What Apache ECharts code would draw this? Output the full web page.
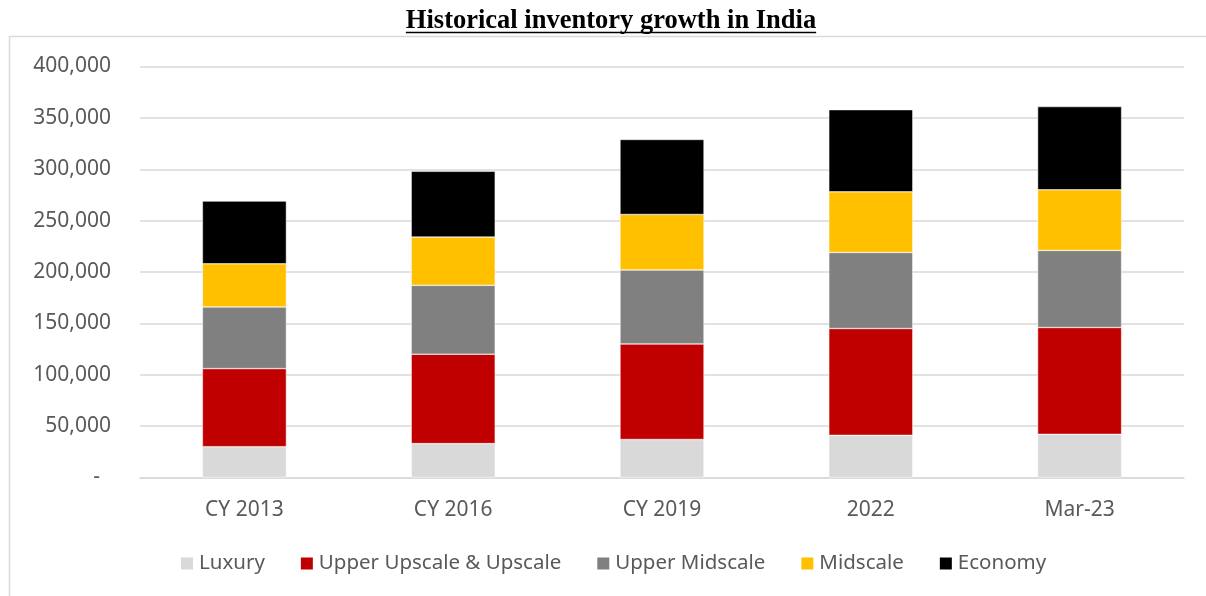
<!DOCTYPE html>
<html>
<head>
<meta charset="utf-8">
<script src="https://cdn.jsdelivr.net/npm/echarts@6/dist/echarts.min.js"></script>
<style>
html,body{margin:0;padding:0;background:#fff;}
#chart{width:1206px;height:596px;}
</style>
</head>
<body>
<div id="chart"></div>
<script>
const titleText = 'Historical inventory growth in India';
const categories = ['CY 2013', 'CY 2016', 'CY 2019', '2022', 'Mar-23'];
const seriesNames = ['Luxury', 'Upper Upscale & Upscale', 'Upper Midscale', 'Midscale', 'Economy'];
const luxury = [30000, 33000, 37000, 41000, 42000];
const upperUpscale = [76000, 87000, 93000, 104000, 104000];
const upperMidscale = [60000, 67000, 72000, 74000, 75000];
const midscale = [42000, 47000, 54000, 59000, 59000];
const economy = [61000, 64000, 73000, 80000, 81000];
const colors = ['#D9D9D9', '#C00000', '#808080', '#FFC000', '#000000'];
const seriesData = [luxury, upperUpscale, upperMidscale, midscale, economy];

const chart = echarts.init(document.getElementById('chart'), null, {renderer: 'canvas'});

const titleFont = 'bold 26.5px "Liberation Serif"';
const mctx = document.createElement('canvas').getContext('2d');
mctx.font = titleFont;
const titleW = mctx.measureText(titleText).width;
const titleCx = 611;

const txt = '#595959';
const font = 'Noto Sans';

chart.setOption({
  animation: false,
  backgroundColor: '#ffffff',
  graphic: [
    {type: 'rect', shape: {x: 9.5, y: 36.5, width: 1220, height: 620}, style: {fill: null, stroke: '#D9D9D9', lineWidth: 1.5}, silent: true, z: -10},
    {type: 'text', x: titleCx, y: 21, style: {text: titleText, font: titleFont, fill: '#000', align: 'center', verticalAlign: 'middle'}},
    {type: 'line', shape: {x1: titleCx - titleW / 2, y1: 32.5, x2: titleCx + titleW / 2, y2: 32.5}, style: {stroke: '#000', lineWidth: 1.5}}
  ],
  legend: {
    left: 174,
    top: 548,
    itemWidth: 14,
    itemHeight: 14,
    itemGap: 34,
    icon: 'rect',
    textStyle: {color: txt, fontFamily: font, fontSize: 20.5, padding: [0, 0, 0, 0]},
    data: seriesNames
  },
  grid: {left: 140, right: 22, top: 66.5, bottom: 118.5, containLabel: false},
  xAxis: {
    type: 'category',
    data: categories,
    axisLine: {lineStyle: {color: '#D9D9D9', width: 1.5}},
    axisTick: {show: false},
    axisLabel: {color: txt, fontFamily: font, fontSize: 21, margin: 22}
  },
  yAxis: {
    type: 'value',
    min: 0, max: 400000, interval: 50000,
    axisLine: {show: false},
    axisTick: {show: false},
    splitLine: {lineStyle: {color: '#D9D9D9', width: 1.5}},
    axisLabel: {
      color: txt, fontFamily: font, fontSize: 21, margin: 29,
      formatter: v => v === 0 ? '-  ' : v.toLocaleString('en-US')
    }
  },
  series: seriesNames.map((n, i) => ({
    name: n,
    type: 'bar',
    stack: 'total',
    barWidth: 84,
    data: seriesData[i],
    itemStyle: {color: colors[i], borderColor: '#ffffff', borderWidth: 0.5}
  }))
});
</script>
</body>
</html>
